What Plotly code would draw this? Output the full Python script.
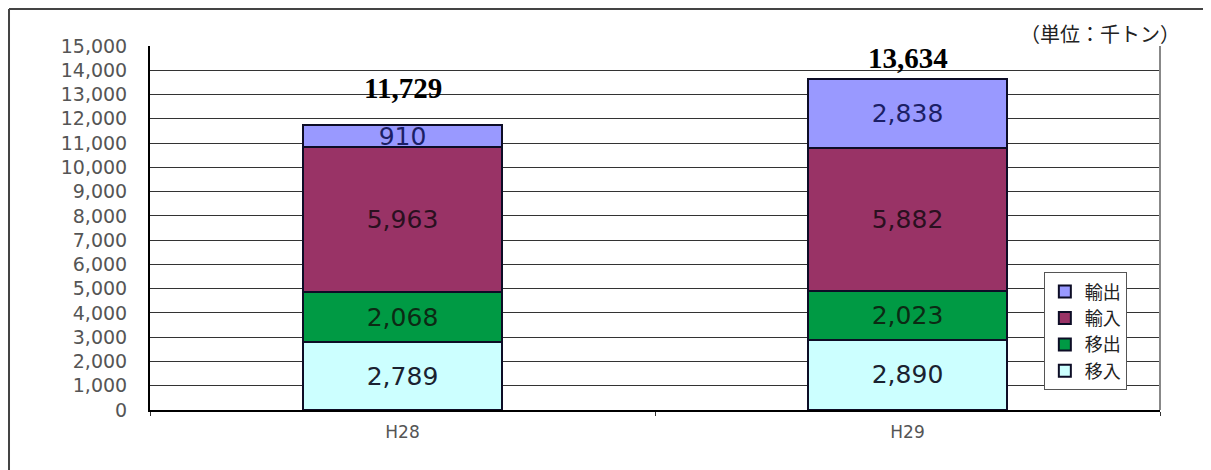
import plotly.graph_objects as go

years = ["H28", "H29"]
series_names = ["移入", "移出", "輸入", "輸出"]
iri = [2789, 2890]      # 移入
ide = [2068, 2023]      # 移出
yunyu = [5963, 5882]    # 輸入
yushutsu = [910, 2838]  # 輸出
totals = [11729, 13634]
tick_vals = list(range(0, 15001, 1000))
tick_text = [f"{v:,}" for v in tick_vals]

colors = ["#CCFFFF", "#009A44", "#993366", "#9999FF"]
text_colors = ["#1a2230", "#0c2a14", "#2a1020", "#1c1f66"]

fig = go.Figure()
for name, vals, col, tc in zip(series_names, [iri, ide, yunyu, yushutsu], colors, text_colors):
    fig.add_trace(go.Bar(
        x=years, y=vals, name=name,
        marker=dict(color=col, line=dict(color="#0d0d26", width=2)),
        text=[f"{v:,}" for v in vals], textposition="inside", insidetextanchor="middle",
        textfont=dict(family="DejaVu Sans", size=25, color=tc),
        width=0.396,
    ))

shifts = [37, 21]
for yr, t, s in zip(years, totals, shifts):
    fig.add_annotation(x=yr, y=t, text=f"<b>{t:,}</b>", showarrow=False,
                       yanchor="middle", yshift=s,
                       font=dict(family="Liberation Serif", size=29, color="black"))

fig.add_annotation(xref="paper", yref="paper", x=1.022, y=0.99, xanchor="right", yanchor="bottom",
                   text="（単位：千トン）", showarrow=False,
                   font=dict(family="Noto Sans CJK JP", size=20, color="#222"))

# outer frame lines
fig.add_shape(type="line", xref="paper", yref="paper", x0=-0.1396, x1=1.06, y0=1.1016, y1=1.1016,
              line=dict(color="#444", width=2))
fig.add_shape(type="line", xref="paper", yref="paper", x0=-0.1396, x1=-0.1396, y0=-0.17, y1=1.1016,
              line=dict(color="#444", width=2))
# right plot border
fig.add_shape(type="line", xref="paper", yref="paper", x0=1, x1=1, y0=0, y1=1,
              line=dict(color="#888", width=2))

fig.update_layout(
    width=1203, height=462,
    margin=dict(l=142, r=51, t=38, b=60, autoexpand=False),
    paper_bgcolor="white", plot_bgcolor="white",
    barmode="stack",
    bargap=0.604,
    showlegend=True,
    uniformtext=dict(minsize=25, mode="show"),
    legend=dict(traceorder="reversed", x=0.885, y=0.378, xanchor="left", yanchor="top",
                bgcolor="white", bordercolor="#555", borderwidth=1,
                font=dict(family="Noto Sans CJK JP", size=18, color="#222"),
                itemwidth=30, tracegroupgap=0),
    xaxis=dict(showline=True, linecolor="black", linewidth=2, ticks="outside", tickson="boundaries",
               ticklen=4, tickcolor="#333", tickfont=dict(family="DejaVu Sans", size=17, color="#555"),
               ticklabelstandoff=6, showgrid=False),
    yaxis=dict(range=[0, 15000], tickvals=tick_vals, ticktext=tick_text,
               showline=True, linecolor="black", linewidth=2,
               showgrid=True, gridcolor="#333", gridwidth=1,
               tickfont=dict(family="DejaVu Sans", size=19, color="#555"),
               ticklabelstandoff=17, zeroline=False),
)

fig.write_html("out.html")
